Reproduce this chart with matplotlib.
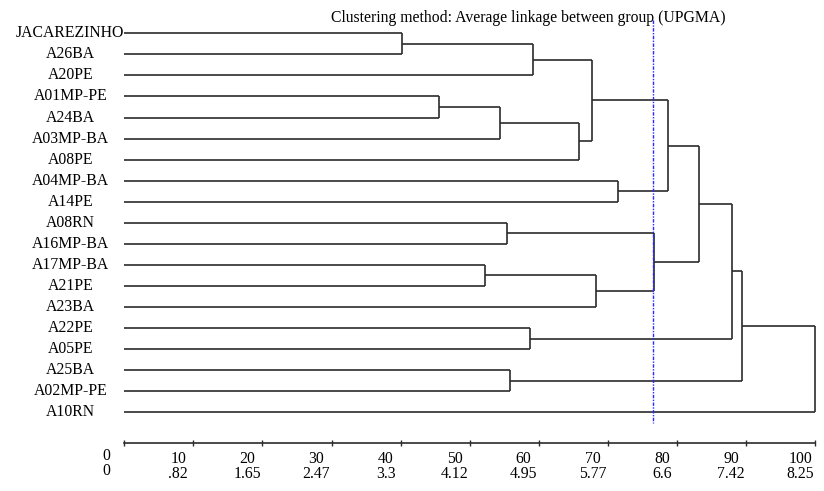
import matplotlib
matplotlib.use("Agg")
import matplotlib.pyplot as plt

# leaves, top to bottom
labels = [
    "JACAREZINHO", "A26BA", "A20PE", "A01MP-PE", "A24BA", "A03MP-BA", "A08PE",
    "A04MP-BA", "A14PE", "A08RN", "A16MP-BA", "A17MP-BA", "A21PE", "A23BA",
    "A22PE", "A05PE", "A25BA", "A02MP-PE", "A10RN",
]

# merges (scipy-style numbering: leaves 0..18, clusters 19..), rescaled distance 0-100
merge_left = [0, 19, 3, 21, 22, 20, 7, 24, 9, 11, 28, 27, 26, 14, 31, 16, 33, 35]
merge_right = [1, 2, 4, 5, 6, 23, 8, 25, 10, 12, 13, 29, 30, 15, 32, 17, 34, 18]
merge_height = [40.2, 59.1, 45.6, 54.4, 65.9, 67.7, 71.5, 78.7, 55.4, 52.2,
                68.3, 76.7, 83.2, 58.7, 88.0, 55.8, 89.5, 100.0]

cut_value = 76.5

scale_ticks = [0, 10, 20, 30, 40, 50, 60, 70, 80, 90, 100]
scale_row2 = ["0", ".82", "1.65", "2.47", "3.3", "4.12", "4.95", "5.77", "6.6", "7.42", "8.25"]

title = "Clustering method: Average linkage between group (UPGMA)"

plt.rcParams["font.family"] = ["Liberation Serif", "DejaVu Serif"]
FS = 11.3
LC = "#2b2b2b"
LW = 1.2

fig = plt.figure(figsize=(8.24, 4.91), dpi=100)
W, H = 824, 491
left_px, right_px, top_px, bot_px = 124.3, 815, 15, 443.3
ax = fig.add_axes([left_px / W, 1 - bot_px / H, (right_px - left_px) / W, (bot_px - top_px) / H])

n = len(labels)
pos_y = {i: float(i) for i in range(n)}
pos_x = {i: 0.0 for i in range(n)}
for k, (a, b, h) in enumerate(zip(merge_left, merge_right, merge_height)):
    node = n + k
    ya, yb = pos_y[a], pos_y[b]
    ax.plot([pos_x[a], h], [ya, ya], color=LC, lw=LW, solid_capstyle="butt", clip_on=False)
    ax.plot([pos_x[b], h], [yb, yb], color=LC, lw=LW, solid_capstyle="butt", clip_on=False)
    ax.plot([h, h], [ya, yb], color=LC, lw=LW, solid_capstyle="butt", clip_on=False)
    pos_y[node] = (ya + yb) / 2
    pos_x[node] = h

for i, lab in enumerate(labels):
    ax.annotate(lab, xy=(0, i), xytext=(-54, 0), textcoords="offset pixels",
                ha="center", va="center", fontsize=FS)

ax.plot([cut_value, cut_value], [-0.63, 18.52], color="#2a2aff", lw=1.0,
        linestyle=(0, (2.5, 1, 1, 1)), clip_on=False)

ax.set_xlim(0, 100)
ax.set_ylim(19.47, -0.87)
for s in ["left", "right", "top"]:
    ax.spines[s].set_visible(False)
ax.spines["bottom"].set_linewidth(1.2)
ax.spines["bottom"].set_color(LC)
ax.set_yticks([])
ax.set_xticks(scale_ticks)
ax.set_xticklabels([])
ax.tick_params(axis="x", direction="inout", length=4, width=1, color=LC)

# two-row scale labels: rescaled distance and raw distance
for t, lab2 in zip(scale_ticks, scale_row2):
    dx, dy = (-18, -20) if t == 0 else (-15, -23)
    ax.annotate(f"{t}\n{lab2}", xy=(t, 0), xycoords=("data", "axes fraction"),
                xytext=(dx, dy), textcoords="offset pixels", ha="center", va="center",
                multialignment="center", linespacing=0.9, fontsize=FS)

fig.text(528 / W, 1 - 18.3 / H, title, ha="center", va="center", fontsize=FS)

fig.savefig("out.png", dpi=100)
